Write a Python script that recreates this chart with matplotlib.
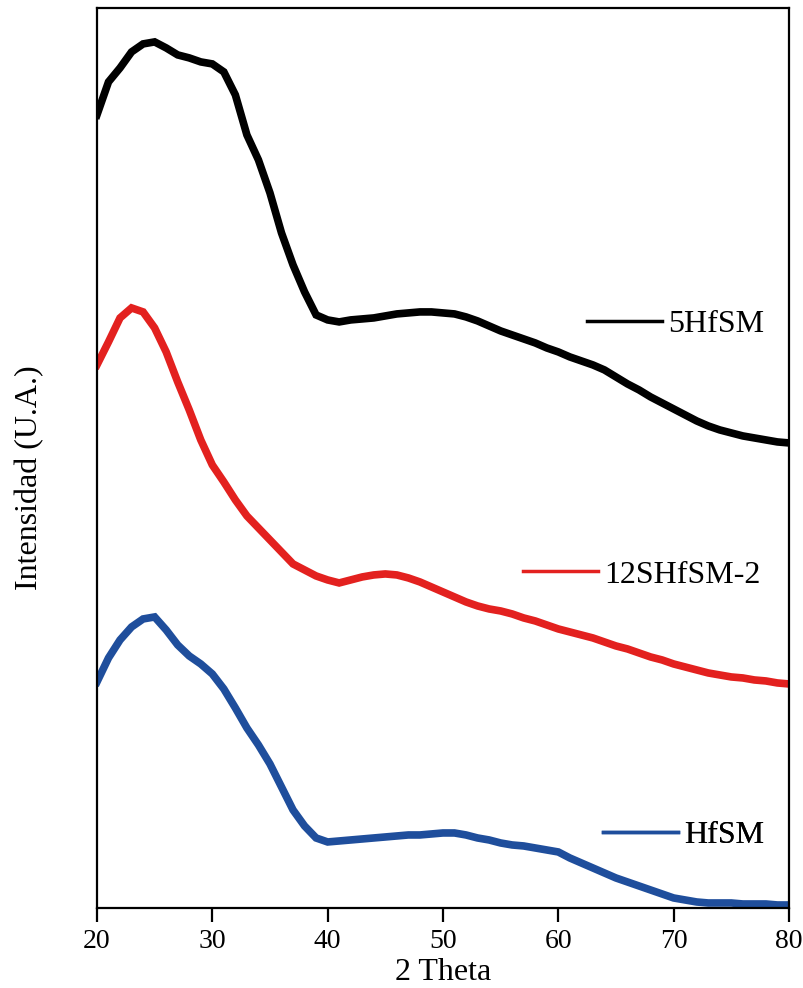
import matplotlib
matplotlib.use("Agg")
import matplotlib.pyplot as plt
import numpy as np

plt.rcParams["font.family"] = ["Liberation Serif", "DejaVu Serif"]

# 2 theta grid (degrees) and intensities (arbitrary units, offset stacked)
two_theta = np.arange(20, 81)

i_5hfsm = [793, 826, 840, 856, 864, 866, 860, 853, 850, 846, 844, 836, 813, 773, 748, 715,
           675, 643, 616, 593, 588,
           586, 588, 589, 590, 592, 594, 595, 596, 596, 595, 594, 591, 587, 582, 577, 573,
           569, 565, 560, 556,
           551, 547, 543, 538, 531, 524, 518, 511, 505, 499, 493, 487, 482, 478, 475, 472,
           470, 468, 466, 465]

i_12shfsm2 = [543, 566, 590, 600, 596, 580, 556, 526, 498, 468, 443, 426, 408, 392, 380, 368,
              356, 344, 338, 332, 328,
              325, 328, 331, 333, 334, 333, 330, 326, 321, 316, 311, 306, 302, 299, 297, 294,
              290, 287, 283, 279,
              276, 273, 270, 266, 262, 259, 255, 251, 248, 244, 241, 238, 235, 233, 231, 230,
              228, 227, 225, 224]

i_hfsm = [226, 250, 268, 281, 289, 291, 278, 263, 252, 244, 234, 219, 200, 180, 163, 144,
          121, 98, 82, 70, 66,
          67, 68, 69, 70, 71, 72, 73, 73, 74, 75, 75, 73, 70, 68, 65, 63, 62, 60, 58, 56,
          50, 45, 40, 35, 30, 26, 22, 18, 14, 10, 8, 6, 5, 5, 5, 4, 4, 4, 3, 3]

labels = ["5HfSM", "12SHfSM-2", "HfSM"]
colors = ["#000000", "#E3211F", "#1F4E9C"]
# legend anchor positions (axes fraction) for each label
leg_pos = [(0.708, 0.648), (0.616, 0.370), (0.731, 0.081)]

fig = plt.figure(figsize=(8.04, 9.88), dpi=100)
ax = fig.add_axes([0.1206, 0.081, 0.8607, 0.911])

lines = []
for y, c in zip([i_5hfsm, i_12shfsm2, i_hfsm], colors):
    ln, = ax.plot(two_theta, y, color=c, linewidth=5.5, solid_joinstyle="miter")
    lines.append(ln)

for ln, lab, pos in zip(lines, labels, leg_pos):
    leg = ax.legend([ln], [lab], loc="center left", bbox_to_anchor=pos, frameon=False,
                    fontsize=23, handlelength=2.35, handletextpad=0.2, borderpad=0,
                    borderaxespad=0)
    for h in leg.legend_handles:
        h.set_linewidth(2.5)
    ax.add_artist(leg)

ax.set_xlim(20, 80)
ax.set_ylim(0, 900)
ax.set_xticks([20, 30, 40, 50, 60, 70, 80])
ax.set_yticks([])
ax.tick_params(axis="x", direction="out", length=10, width=1.6, labelsize=20, pad=5)
for s in ax.spines.values():
    s.set_linewidth(1.6)

fig.text(443 / 804, 1 - 972 / 988, "2 Theta", ha="center", va="center", fontsize=23)
fig.text(30 / 804, 1 - 478 / 988, "Intensidad (U.A.)", ha="center", va="center",
         rotation=90, fontsize=23)

plt.savefig("out.png", dpi=100, facecolor="white")
